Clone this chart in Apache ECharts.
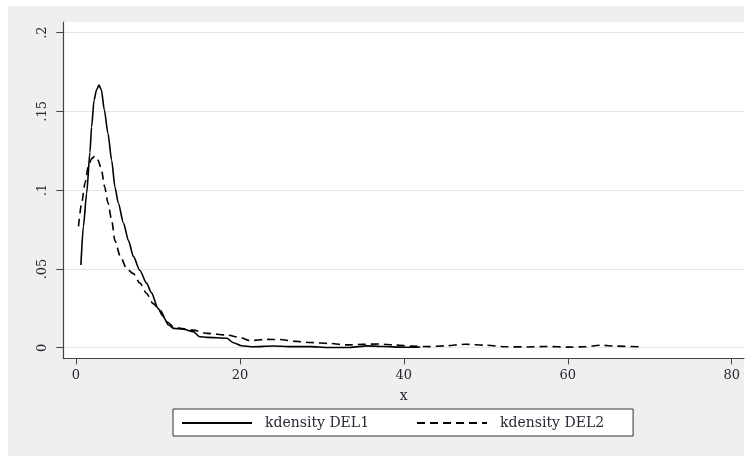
<!DOCTYPE html>
<html>
<head>
<meta charset="utf-8">
<script src="https://cdn.jsdelivr.net/npm/echarts@6/dist/echarts.min.js"></script>
<style>
  html, body { margin: 0; padding: 0; background: #ffffff; }
  #chart { width: 753px; height: 456px; }
</style>
</head>
<body>
<div id="chart"></div>
<script>
// Kernel density estimates of DEL1 and DEL2
const del1X = [0.6, 0.9, 1.3, 1.7, 1.9, 2.2, 2.5, 2.8, 3.1, 3.45, 3.9, 4.35, 4.75, 5.15, 5.8, 6.4, 7.0, 7.8, 8.6, 9.2, 10.0, 10.6, 11.3, 11.9, 13.1, 14.3, 15.1, 16.0, 18.4, 19.2, 20.2, 21.6, 24.1, 26.1, 28.6, 30.6, 33.4, 35.5, 37.5, 40.0, 42.0];
const del1Y = [0.0525, 0.077, 0.098, 0.124, 0.140, 0.157, 0.1635, 0.1667, 0.1635, 0.151, 0.136, 0.119, 0.102, 0.092, 0.079, 0.068, 0.058, 0.049, 0.041, 0.035, 0.025, 0.020, 0.0144, 0.0123, 0.0117, 0.0102, 0.0070, 0.0066, 0.0060, 0.0032, 0.0013, 0.0006, 0.0011, 0.0007, 0.0007, 0.0002, 0.0002, 0.0012, 0.0008, 0.0003, 0.0005];

const del2X = [0.3, 0.7, 1.1, 1.5, 1.9, 2.3, 2.7, 3.1, 3.5, 3.9, 4.35, 4.75, 5.4, 6.2, 7.0, 7.8, 8.6, 9.4, 10.25, 11.1, 11.9, 12.7, 14.3, 16.0, 18.4, 20.0, 21.2, 23.3, 24.9, 26.5, 28.6, 31.0, 33.0, 35.0, 37.0, 39.0, 41.0, 43.0, 45.0, 47.5, 50.0, 52.5, 55.0, 57.5, 60.0, 62.0, 64.0, 66.0, 68.8];
const del2Y = [0.077, 0.092, 0.1045, 0.115, 0.120, 0.1216, 0.119, 0.113, 0.102, 0.092, 0.081, 0.068, 0.058, 0.050, 0.047, 0.041, 0.0345, 0.028, 0.024, 0.0165, 0.0133, 0.0123, 0.0112, 0.0091, 0.0081, 0.0066, 0.0045, 0.0053, 0.0052, 0.0042, 0.0033, 0.0027, 0.0018, 0.0022, 0.0024, 0.0017, 0.0010, 0.0007, 0.0012, 0.0022, 0.0016, 0.0006, 0.0005, 0.0008, 0.0004, 0.0006, 0.0016, 0.0010, 0.0006];

const xTicks = [0, 20, 40, 60, 80];
const yTicks = [0, 0.05, 0.1, 0.15, 0.2];
const seriesNames = ['kdensity DEL1', 'kdensity DEL2'];
const xTitle = 'x';

const pairs = (xs, ys) => xs.map((x, i) => [x, ys[i]]);
const fmtY = v => (v === 0 ? '0' : String(+v.toFixed(2)).replace(/^0\./, '.'));

const serif = 'DejaVu Serif';
const textColor = '#2b2633';

const chart = echarts.init(document.getElementById('chart'), null, { renderer: 'canvas' });
chart.setOption({
  animation: false,
  backgroundColor: '#ffffff',
  graphic: [{
    type: 'rect', z: -10, silent: true,
    shape: { x: 8, y: 6, width: 736, height: 450 },
    style: { fill: '#efefef' }
  }],
  grid: {
    left: 63.3, top: 22, right: 9, bottom: 97.7,
    show: true, backgroundColor: '#ffffff', borderWidth: 0
  },
  legend: {
    left: 173, top: 409,
    orient: 'horizontal',
    backgroundColor: '#ffffff',
    borderColor: '#333333', borderWidth: 1, borderRadius: 0,
    padding: [7, 29, 6, 8],
    itemWidth: 70, itemHeight: 14, itemGap: 47,
    itemStyle: { color: 'transparent', borderWidth: 0, opacity: 0 },
    textStyle: { fontFamily: serif, fontSize: 14, color: textColor, padding: [0, 0, 0, 8] },
    data: seriesNames
  },
  xAxis: {
    type: 'value', min: -1.55, max: 81.5,
    name: xTitle, nameLocation: 'middle', nameGap: 31,
    nameTextStyle: { fontFamily: serif, fontSize: 14, color: textColor },
    axisLine: { show: true, onZero: false, lineStyle: { color: '#444444', width: 1.2 } },
    axisTick: { show: true, inside: false, length: 6, customValues: xTicks, lineStyle: { color: '#444444' } },
    axisLabel: { customValues: xTicks, margin: 11, fontFamily: serif, fontSize: 13, color: textColor },
    splitLine: { show: false }
  },
  yAxis: {
    type: 'value', min: -0.0067, max: 0.2067,
    axisLine: { show: true, onZero: false, lineStyle: { color: '#444444', width: 1.2 } },
    axisTick: { show: true, inside: false, length: 7, customValues: yTicks, lineStyle: { color: '#444444' } },
    axisLabel: { customValues: yTicks, rotate: 90, margin: 14, fontFamily: serif, fontSize: 13, color: textColor, formatter: fmtY },
    splitLine: { show: false }
  },
  series: [
    {
      name: seriesNames[0], type: 'line',
      data: pairs(del1X, del1Y),
      showSymbol: false, symbol: 'none',
      smooth: 0.25, smoothMonotone: 'x',
      lineStyle: { color: '#000000', width: 1.6, type: 'solid' },
      itemStyle: { color: '#000000' },
      markLine: {
        silent: true, symbol: 'none', label: { show: false },
        lineStyle: { color: '#e6e6e6', width: 1.2, type: 'solid' },
        data: yTicks.map(v => ({ yAxis: v })),
        z: 0
      },
      z: 3
    },
    {
      name: seriesNames[1], type: 'line',
      data: pairs(del2X, del2Y),
      showSymbol: false, symbol: 'none',
      smooth: 0.25, smoothMonotone: 'x',
      lineStyle: { color: '#000000', width: 1.6, type: [8, 5] },
      itemStyle: { color: '#000000' },
      z: 3
    }
  ]
});
</script>
</body>
</html>
